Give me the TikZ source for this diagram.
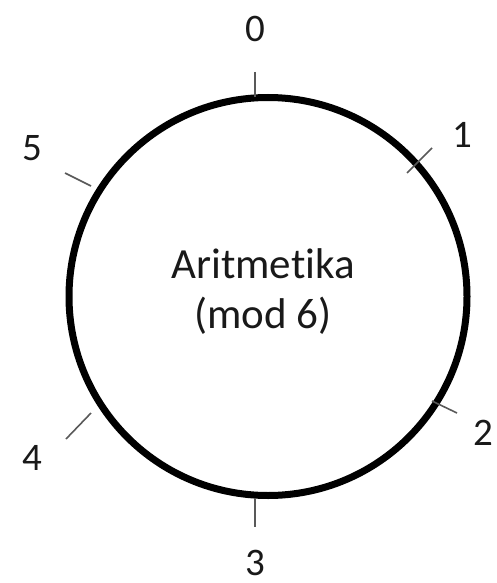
\documentclass[tikz,border=0pt]{standalone}
\usepackage{fontspec}
\setmainfont{Carlito}[Ligatures=NoCommon]
\begin{document}
\begin{tikzpicture}[x=1pt,y=-1pt,
  ring/.style={draw=black,line width=7pt,circle,minimum size=398pt,inner sep=0pt},
  tick/.style={draw=black!65,line width=1.6pt},
  num/.style={font=\fontsize{39}{44}\selectfont,inner sep=0pt,text=black!90},
  title/.style={font=\fontsize{43}{50}\selectfont,align=center,inner sep=0pt,text=black!90}]
\useasboundingbox (0,0) rectangle (496,583);
\node[ring] (c) at (268,296.5) {};
\node[title] (t) at (263,292) {Aritmet\kern0pt ika\\(mod 6)};
% ticks
\coordinate (a0) at (255,72);  \coordinate (b0) at (255,97);
\coordinate (a1) at (407,173); \coordinate (b1) at (432,148);
\coordinate (a2) at (432,401); \coordinate (b2) at (457,413);
\coordinate (a3) at (255,498); \coordinate (b3) at (255,527);
\coordinate (a4) at (91,413);  \coordinate (b4) at (66,439);
\coordinate (a5) at (65,173);  \coordinate (b5) at (91,186);
\foreach \i in {0,...,5} \draw[tick] (a\i) -- (b\i);
% labels
\node[num] (n0) at (255,29) {0};
\node[num] (n1) at (462,135) {1};
\node[num] (n2) at (483,433) {2};
\node[num] (n3) at (255,563) {3};
\node[num] (n4) at (32,458) {4};
\node[num] (n5) at (32,148) {5};
\end{tikzpicture}
\end{document}
